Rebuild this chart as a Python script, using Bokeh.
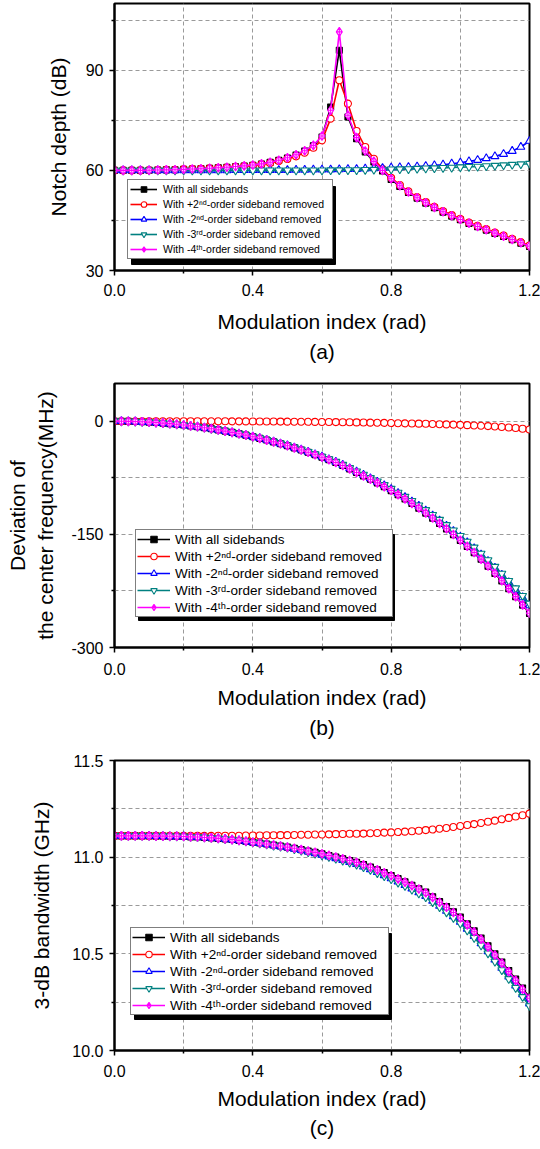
from bokeh.plotting import figure
from bokeh.models import (FixedTicker, Legend, LegendItem, PrintfTickFormatter, Range1d,
                          BoxAnnotation)
from bokeh.layouts import column
from bokeh.embed import file_html
from bokeh.resources import INLINE

# ---------------- data ----------------
legend_labels = [
    "With all sidebands",
    "With +2\u207f\u1d48-order sideband removed",
    "With -2\u207f\u1d48-order sideband removed",
    "With -3\u02b3\u1d48-order sideband removed",
    "With -4\u1d57\u02b0-order sideband removed",
]

x_ticks = [0.0, 0.4, 0.8, 1.2]
x_minor = [0.2, 0.6, 1.0]

# panel (a): notch depth (dB)
xa = [0.0, 0.025, 0.05, 0.075, 0.1, 0.125, 0.15, 0.175, 0.2, 0.225, 0.25, 0.275,
      0.3, 0.325, 0.35, 0.375, 0.4, 0.425, 0.45, 0.475, 0.5, 0.525, 0.55, 0.575,
      0.6, 0.625, 0.65, 0.675, 0.7, 0.725, 0.75, 0.775, 0.8, 0.825, 0.85, 0.875,
      0.9, 0.925, 0.95, 0.975, 1.0, 1.025, 1.05, 1.075, 1.1, 1.125, 1.15, 1.175, 1.2]
a_all = [60.0, 60.0, 60.0, 60.0, 60.05, 60.1, 60.15, 60.2, 60.3, 60.4, 60.5, 60.6,
         60.75, 60.9, 61.1, 61.3, 61.55, 61.9, 62.4, 63.0, 63.7, 64.6, 65.8, 67.4,
         70.0, 79.0, 96.0, 76.0, 69.5, 65.5, 62.5, 59.8, 57.3, 55.2, 53.4, 51.7,
         50.2, 48.8, 47.5, 46.3, 45.2, 44.1, 43.1, 42.1, 41.1, 40.2, 39.2, 38.2, 37.2]
a_p2 = [60.0, 60.0, 60.0, 60.0, 60.05, 60.1, 60.15, 60.2, 60.3, 60.4, 60.5, 60.6,
        60.7, 60.85, 61.0, 61.2, 61.45, 61.8, 62.2, 62.8, 63.4, 64.2, 65.3, 66.8,
        69.0, 75.5, 87.0, 80.0, 71.8, 67.0, 63.5, 60.4, 57.8, 55.6, 53.7, 52.0,
        50.5, 49.1, 47.8, 46.6, 45.5, 44.4, 43.4, 42.4, 41.4, 40.5, 39.5, 38.5, 37.5]
a_m2 = [60.0, 60.0, 60.0, 60.0, 60.0, 60.0, 60.0, 60.0, 60.0, 60.0, 60.0, 60.0,
        60.0, 60.0, 60.05, 60.05, 60.05, 60.1, 60.1, 60.1, 60.1, 60.15, 60.15, 60.2,
        60.2, 60.25, 60.3, 60.35, 60.4, 60.5, 60.6, 60.7, 60.8, 60.9, 61.0, 61.15,
        61.3, 61.5, 61.7, 62.0, 62.3, 62.7, 63.1, 63.6, 64.2, 64.9, 65.8, 67.0, 68.8]
a_m3 = [60.0, 60.0, 60.0, 60.0, 60.0, 60.0, 60.0, 60.0, 60.0, 60.0, 60.0, 60.0,
        60.0, 60.0, 60.0, 60.0, 60.0, 60.0, 60.0, 60.0, 60.0, 60.0, 60.0, 60.0,
        60.0, 60.05, 60.05, 60.1, 60.1, 60.15, 60.2, 60.25, 60.3, 60.35, 60.4, 60.5,
        60.6, 60.65, 60.75, 60.85, 60.95, 61.05, 61.15, 61.3, 61.4, 61.55, 61.7, 61.85, 62.0]
a_m4 = [60.0, 60.0, 60.0, 60.0, 60.05, 60.1, 60.15, 60.2, 60.3, 60.4, 60.5, 60.65,
        60.8, 60.95, 61.15, 61.35, 61.6, 61.95, 62.45, 63.05, 63.8, 64.7, 65.9, 67.5,
        70.3, 78.0, 101.5, 76.5, 69.8, 65.8, 62.7, 60.0, 57.5, 55.4, 53.5, 51.8,
        50.3, 48.9, 47.6, 46.4, 45.3, 44.2, 43.2, 42.2, 41.2, 40.3, 39.3, 38.3, 37.3]
a_yticks = [30, 60, 90]
a_yminor = [45, 75, 105]

# panels (b) and (c): sampled every 0.02 rad
xb = [0.0, 0.02, 0.04, 0.06, 0.08, 0.1, 0.12, 0.14, 0.16, 0.18,
      0.2, 0.22, 0.24, 0.26, 0.28, 0.3, 0.32, 0.34, 0.36, 0.38,
      0.4, 0.42, 0.44, 0.46, 0.48, 0.5, 0.52, 0.54, 0.56, 0.58,
      0.6, 0.62, 0.64, 0.66, 0.68, 0.7, 0.72, 0.74, 0.76, 0.78,
      0.8, 0.82, 0.84, 0.86, 0.88, 0.9, 0.92, 0.94, 0.96, 0.98,
      1.0, 1.02, 1.04, 1.06, 1.08, 1.1, 1.12, 1.14, 1.16, 1.18, 1.2]

# panel (b): deviation of the center frequency (MHz)
b_all = [0.0, -0.05, -0.2, -0.4, -0.8, -1.2, -1.8, -2.5, -3.2, -4.1,
         -5.1, -6.2, -7.3, -8.6, -10.0, -11.5, -13.1, -14.8, -16.6, -18.5,
         -20.5, -22.7, -25.0, -27.4, -29.9, -32.5, -35.3, -38.2, -41.2, -44.4,
         -47.7, -51.1, -54.7, -58.8, -63.3, -68.0, -72.5, -77.0, -81.8, -86.8,
         -92.0, -97.5, -103.2, -109.1, -115.3, -121.8, -128.6, -135.6, -142.8, -150.3,
         -158.0, -166.0, -174.3, -183.0, -192.2, -201.8, -211.8, -222.2, -232.8, -243.8,
         -255.0]
b_p2 = [0.0, 0.0, 0.0, 0.0, 0.0, 0.0, 0.0, -0.01, -0.01, -0.02,
        -0.03, -0.04, -0.05, -0.07, -0.09, -0.11, -0.14, -0.17, -0.2, -0.24,
        -0.28, -0.33, -0.38, -0.44, -0.5, -0.57, -0.64, -0.72, -0.8, -0.9,
        -1.0, -1.1, -1.2, -1.3, -1.45, -1.6, -1.75, -1.9, -2.05, -2.2,
        -2.4, -2.6, -2.8, -3.0, -3.2, -3.45, -3.7, -3.95, -4.2, -4.5,
        -4.8, -5.2, -5.6, -6.0, -6.5, -7.0, -7.6, -8.3, -9.0, -9.9,
        -11.0]
b_m2 = [0.0, -0.05, -0.2, -0.4, -0.8, -1.2, -1.8, -2.5, -3.2, -4.1,
        -5.1, -6.2, -7.3, -8.6, -10.0, -11.5, -13.0, -14.7, -16.5, -18.4,
        -20.4, -22.5, -24.8, -27.2, -29.7, -32.2, -35.0, -37.8, -40.8, -43.9,
        -47.1, -50.5, -54.0, -58.0, -62.4, -66.9, -71.3, -75.7, -80.3, -85.1,
        -90.1, -95.4, -100.8, -106.5, -112.4, -118.6, -125.1, -131.8, -138.7, -145.8,
        -153.2, -160.8, -168.7, -177.0, -185.6, -194.6, -203.9, -213.6, -223.5, -233.7,
        -244.2]
b_m3 = [0.0, -0.05, -0.2, -0.4, -0.8, -1.2, -1.8, -2.5, -3.2, -4.1,
        -5.1, -6.2, -7.3, -8.6, -10.0, -11.4, -13.0, -14.7, -16.5, -18.4,
        -20.3, -22.4, -24.7, -27.1, -29.5, -32.0, -34.8, -37.6, -40.6, -43.7,
        -46.9, -50.2, -53.7, -57.6, -62.0, -66.4, -70.8, -75.2, -79.7, -84.5,
        -89.4, -94.6, -100.0, -105.6, -111.5, -117.6, -124.0, -130.6, -137.5, -144.6,
        -151.9, -159.5, -167.3, -175.5, -184.0, -192.8, -202.0, -211.5, -221.3, -231.4,
        -241.8]
b_m4 = [0.0, -0.05, -0.2, -0.4, -0.8, -1.2, -1.8, -2.5, -3.2, -4.1,
        -5.1, -6.2, -7.3, -8.6, -10.0, -11.5, -13.1, -14.8, -16.6, -18.5,
        -20.5, -22.7, -25.0, -27.4, -29.9, -32.5, -35.3, -38.2, -41.2, -44.4,
        -47.7, -51.1, -54.7, -58.8, -63.2, -67.9, -72.4, -76.9, -81.7, -86.7,
        -91.9, -97.3, -103.0, -108.9, -115.1, -121.6, -128.4, -135.4, -142.6, -150.1,
        -157.8, -165.8, -174.1, -182.8, -191.9, -201.5, -211.5, -221.9, -232.5, -243.5,
        -254.6]
b_yticks = [-300, -150, 0]
b_yminor = [-225, -75]

# panel (c): 3-dB bandwidth (GHz)
c_all = [11.110, 11.110, 11.110, 11.110, 11.110, 11.110, 11.109, 11.109, 11.108, 11.108,
         11.107, 11.105, 11.104, 11.102, 11.100, 11.097, 11.094, 11.091, 11.087, 11.082,
         11.077, 11.073, 11.068, 11.063, 11.058, 11.052, 11.046, 11.039, 11.032, 11.025,
         11.017, 11.009, 11.001, 10.992, 10.983, 10.974, 10.962, 10.949, 10.935, 10.920,
         10.905, 10.889, 10.872, 10.855, 10.837, 10.819, 10.795, 10.770, 10.745, 10.718,
         10.690, 10.655, 10.619, 10.582, 10.542, 10.500, 10.458, 10.414, 10.369, 10.323,
         10.275]
c_p2 = [11.110, 11.110, 11.110, 11.110, 11.110, 11.110, 11.110, 11.110, 11.110, 11.110,
        11.110, 11.110, 11.110, 11.110, 11.110, 11.111, 11.111, 11.111, 11.111, 11.112,
        11.112, 11.112, 11.113, 11.113, 11.114, 11.114, 11.115, 11.116, 11.116, 11.117,
        11.117, 11.118, 11.119, 11.120, 11.121, 11.121, 11.122, 11.124, 11.125, 11.127,
        11.128, 11.130, 11.132, 11.134, 11.137, 11.140, 11.143, 11.147, 11.151, 11.156,
        11.161, 11.166, 11.171, 11.177, 11.183, 11.189, 11.196, 11.203, 11.210, 11.217,
        11.225]
c_m2 = [11.110, 11.110, 11.110, 11.110, 11.110, 11.110, 11.109, 11.109, 11.108, 11.108,
        11.107, 11.105, 11.104, 11.102, 11.100, 11.097, 11.094, 11.091, 11.087, 11.082,
        11.076, 11.072, 11.067, 11.061, 11.056, 11.050, 11.043, 11.036, 11.028, 11.020,
        11.012, 11.003, 10.994, 10.984, 10.974, 10.964, 10.951, 10.937, 10.922, 10.906,
        10.890, 10.873, 10.855, 10.837, 10.818, 10.799, 10.774, 10.748, 10.722, 10.694,
        10.665, 10.629, 10.592, 10.554, 10.513, 10.470, 10.427, 10.382, 10.336, 10.290,
        10.243]
c_m3 = [11.110, 11.110, 11.110, 11.110, 11.110, 11.110, 11.109, 11.109, 11.108, 11.108,
        11.107, 11.105, 11.104, 11.102, 11.100, 11.097, 11.094, 11.091, 11.087, 11.082,
        11.076, 11.071, 11.066, 11.060, 11.055, 11.049, 11.042, 11.034, 11.026, 11.018,
        11.010, 11.001, 10.992, 10.982, 10.972, 10.961, 10.948, 10.934, 10.918, 10.902,
        10.886, 10.869, 10.851, 10.832, 10.813, 10.793, 10.768, 10.742, 10.715, 10.686,
        10.657, 10.621, 10.583, 10.544, 10.503, 10.460, 10.416, 10.370, 10.324, 10.277,
        10.230]
c_m4 = [11.110, 11.110, 11.110, 11.110, 11.110, 11.110, 11.109, 11.109, 11.108, 11.108,
        11.107, 11.105, 11.104, 11.102, 11.100, 11.097, 11.094, 11.091, 11.087, 11.082,
        11.077, 11.073, 11.068, 11.063, 11.058, 11.052, 11.046, 11.039, 11.032, 11.025,
        11.017, 11.009, 11.001, 10.992, 10.983, 10.973, 10.961, 10.948, 10.934, 10.919,
        10.904, 10.888, 10.871, 10.853, 10.835, 10.816, 10.792, 10.767, 10.741, 10.714,
        10.685, 10.650, 10.614, 10.576, 10.536, 10.494, 10.452, 10.408, 10.363, 10.317,
        10.270]
c_yticks = [10.0, 10.5, 11.0, 11.5]
c_yminor = [10.25, 10.75, 11.25]

# ---------------- styling ----------------
FONT = "Liberation Sans"
STYLES = [  # color, marker, size, fill
    ("#000000", "square", 6, "#000000"),
    ("#ff0000", "circle", 7, "#ffffff"),
    ("#0000ff", "triangle", 8, "#ffffff"),
    ("#008080", "inverted_triangle", 8, "#ffffff"),
    ("#ff00ff", "diamond_cross", 9, "#ffffff"),
]
GRID = "#9a9a9a"
FRAME_LEFT = 114
FRAME_W = 415


def make_panel(x, ys, yr, yticks, yminor, yfmt, ylabel, xlabel, frame_h, top, bottom,
               leg, y_lab_standoff, x_tick_standoff, x_lab_standoff, x_line_h, y_line_h=1.2):
    p = figure(frame_width=FRAME_W, frame_height=frame_h,
               min_border_left=FRAME_LEFT, min_border_right=540 - FRAME_LEFT - FRAME_W,
               min_border_top=top, min_border_bottom=bottom,
               x_range=Range1d(0, 1.2), y_range=Range1d(*yr),
               output_backend="svg", toolbar_location=None)
    p.background_fill_color = "white"
    p.border_fill_color = "white"
    p.outline_line_color = "black"
    p.outline_line_width = 2
    p.outline_line_alpha = 1

    xt = FixedTicker(ticks=x_ticks, minor_ticks=x_minor)
    yt = FixedTicker(ticks=yticks, minor_ticks=yminor)
    p.xaxis.ticker = xt
    p.yaxis.ticker = yt
    p.xgrid.ticker = xt
    p.ygrid.ticker = yt
    p.xaxis.formatter = PrintfTickFormatter(format="%.1f")
    p.yaxis.formatter = PrintfTickFormatter(format=yfmt)

    for ax in (p.xaxis, p.yaxis):
        ax.axis_line_width = 2
        ax.axis_line_color = "black"
        ax.major_tick_line_width = 1.5
        ax.minor_tick_line_width = 1.5
        ax.major_tick_in = 0
        ax.major_tick_out = 5
        ax.minor_tick_in = 0
        ax.minor_tick_out = 3
        ax.major_label_text_font = FONT
        ax.major_label_text_font_size = "16px"
        ax.major_label_text_color = "black"
        ax.axis_label_text_font = FONT
        ax.axis_label_text_font_size = "21px"
        ax.axis_label_text_font_style = "normal"
        ax.axis_label_text_color = "black"
    p.xaxis.axis_label = xlabel
    p.yaxis.axis_label = ylabel
    p.xaxis.major_label_standoff = x_tick_standoff
    p.xaxis.axis_label_standoff = x_lab_standoff
    p.xaxis.axis_label_text_line_height = x_line_h
    p.yaxis.major_label_standoff = 6
    p.yaxis.axis_label_standoff = y_lab_standoff
    p.yaxis.axis_label_text_line_height = y_line_h

    for g in (p.xgrid, p.ygrid):
        g.grid_line_color = GRID
        g.grid_line_dash = "4 3"
        g.grid_line_width = 1
        g.minor_grid_line_color = GRID
        g.minor_grid_line_dash = "4 3"
        g.minor_grid_line_width = 1

    pairs = []
    for y, (c, m, s, fc) in zip(ys, STYLES):
        lr = p.line(x, y, line_color=c, line_width=1.6)
        sr = p.scatter(x, y, marker=m, size=s, line_color=c, fill_color=fc, line_width=1.1)
        pairs.append((lr, sr))

    # legend geometry (pixels, relative to the frame's bottom-left corner)
    lx, ly = leg["loc"]
    dx, dy = leg["shadow"]
    pad, gw, so, lw = leg["pad"], leg["glyph_w"], leg["standoff"], leg["label_w"]
    rh, sp = leg["row_h"], leg["spacing"]
    W = 2 * pad + gw + so + lw
    H = 5 * rh + 4 * sp + 2 * pad
    frame_bottom = top + frame_h
    s_left = FRAME_LEFT + lx + dx
    s_top = frame_bottom - ly - H + dy
    shadow = BoxAnnotation(left=s_left, right=s_left + W, top=s_top, bottom=s_top + H,
                           left_units="canvas", right_units="canvas",
                           top_units="canvas", bottom_units="canvas",
                           fill_color="black", fill_alpha=1,
                           line_color="black", line_alpha=1, line_width=1)
    p.add_layout(shadow)

    items = [LegendItem(label=lab, renderers=[lr, sr])
             for lab, (lr, sr) in zip(legend_labels, pairs)]
    lg = Legend(items=items, location=(lx, ly), margin=0, padding=pad, spacing=sp,
                glyph_width=gw, glyph_height=rh, label_height=rh, label_width=lw,
                label_standoff=so,
                label_text_font=FONT, label_text_font_size=leg["font"],
                label_text_color="black",
                border_line_color="black", border_line_width=1,
                background_fill_color="white", background_fill_alpha=1)
    p.add_layout(lg)
    return p


pa = make_panel(xa, [a_all, a_p2, a_m2, a_m3, a_m4], (30, 110), a_yticks, a_yminor, "%d",
                "Notch depth (dB)", "Modulation index (rad)\n(a)",
                frame_h=267, top=3, bottom=100,
                leg=dict(loc=(13, 11), shadow=(4, 5), pad=2, glyph_w=27, standoff=6,
                         label_w=167, row_h=14, spacing=1, font="10.5px"),
                y_lab_standoff=13, x_tick_standoff=8, x_lab_standoff=11, x_line_h=1.32)

pb = make_panel(xb, [b_all, b_p2, b_m2, b_m3, b_m4], (-300, 50), b_yticks, b_yminor, "%d",
                "Deviation of\nthe center frequency(MHz)", "Modulation index (rad)\n(b)",
                frame_h=264, top=13, bottom=103,
                leg=dict(loc=(21, 30), shadow=(3, 3), pad=1, glyph_w=33, standoff=5,
                         label_w=216, row_h=16, spacing=1, font="13.5px"),
                y_lab_standoff=11, x_tick_standoff=10, x_lab_standoff=8, x_line_h=1.31,
                y_line_h=1.25)

pc = make_panel(xb, [c_all, c_p2, c_m2, c_m3, c_m4], (10.0, 11.5), c_yticks, c_yminor, "%.1f",
                "3-dB bandwidth (GHz)", "Modulation index (rad)\n(c)",
                frame_h=290, top=10, bottom=99,
                leg=dict(loc=(16, 35), shadow=(4, 4), pad=1, glyph_w=33, standoff=5,
                         label_w=217, row_h=16, spacing=1, font="13.5px"),
                y_lab_standoff=16, x_tick_standoff=9, x_lab_standoff=7, x_line_h=1.3)

layout = column(pa, pb, pc, spacing=0)
open("out.html", "w").write(file_html(layout, INLINE))
